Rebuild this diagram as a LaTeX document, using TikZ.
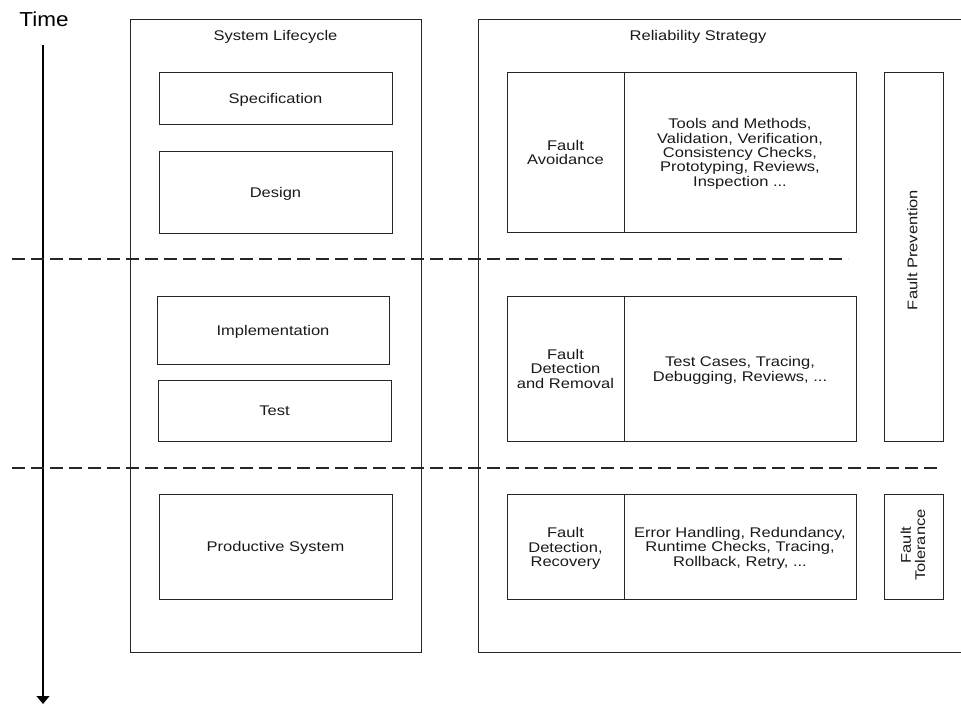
\documentclass[tikz,border=0pt]{standalone}
\usepackage{graphicx}
\usepackage{fontspec}
\setmainfont{Liberation Sans}
\usetikzlibrary{arrows.meta}
% text in this drawing is set slightly condensed in height
\newcommand\sq[1]{\scalebox{1}[0.85]{\begin{tabular}{@{}c@{}}#1\end{tabular}}}
% same, with the ink lowered a little inside unchanged box dimensions
\newcommand\sqb[1]{\raisebox{-2.5pt}[\height][\depth]{\sq{#1}}}
\newcommand\sqline[1]{\scalebox{1}[0.85]{#1}}
\begin{document}
\begin{tikzpicture}[x=1pt,y=-1pt,
  every node/.style={inner sep=0pt,outer sep=0pt},
  txt/.style={font=\fontsize{16.5}{16.5}\selectfont,align=center,text=black!90},
  box/.style={draw=black!85,line width=1pt,txt},
  frame/.style={draw=black!85,line width=1pt},
  sep/.style={draw=black!85,line width=1.3pt,dash pattern=on 13pt off 6pt},
  title/.style={txt,anchor=base}]
\useasboundingbox (0,0) rectangle (961,704);
\clip (0,0) rectangle (961,704);

% time axis
\node[font=\fontsize{22.5}{22.5}\selectfont,anchor=base] (time) at (44,26) {\scalebox{1}[0.9]{Time}};
\coordinate (t0) at (43,45);
\coordinate (t1) at (43,704);
\draw[line width=1.3pt,-{Triangle[width=13pt,length=8pt]}] (t0) -- (t1);

% phase separators
\coordinate (d1a) at (12,259);  \coordinate (d1b) at (848,259);
\coordinate (d2a) at (12,468);  \coordinate (d2b) at (942,468);
\draw[sep] (d1a) -- (d1b);
\draw[sep] (d2a) -- (d2b);

% system lifecycle column
\node[frame,minimum width=291,minimum height=633] (life) at (275.5,335.5) {};
\node[title] (lifet) at (275.5,40) {\sqline{System Lifecycle}};
\node[box,minimum width=233,minimum height=52] (spec) at (275.5,98) {\sqb{Specification}};
\node[box,minimum width=233,minimum height=82] (design) at (275.5,192) {\sqb{Design}};
\node[box,minimum width=232,minimum height=68] (impl) at (273,330) {\sqb{Implementation}};
\node[box,minimum width=233,minimum height=61] (test) at (274.5,410.5) {\sqb{Test}};
\node[box,minimum width=233,minimum height=105] (prod) at (275.5,546.5) {\sqb{Productive System}};

% reliability strategy column
\node[frame,minimum width=500,minimum height=633] (rel) at (728,335.5) {};
\node[title] (relt) at (698,40) {\sqline{Reliability Strategy}};

\node[box,minimum width=117,minimum height=160] (avl) at (565.5,152) {\sqb{Fault\\Avoidance}};
\node[box,minimum width=232,minimum height=160] (avr) at (740,152)
  {\sqb{Tools and Methods,\\Validation, Verification,\\Consistency Checks,\\Prototyping, Reviews,\\Inspection ...}};

\node[box,minimum width=117,minimum height=145] (drl) at (565.5,368.5) {\sqb{Fault\\Detection\\and Removal}};
\node[box,minimum width=232,minimum height=145] (drr) at (740,368.5)
  {\sqb{Test Cases, Tracing,\\Debugging, Reviews, ...}};

\node[box,minimum width=117,minimum height=105] (rcl) at (565.5,546.5) {\sqb{Fault\\Detection,\\Recovery}};
\node[box,minimum width=232,minimum height=105] (rcr) at (740,546.5)
  {\sqb{Error Handling, Redundancy,\\Runtime Checks, Tracing,\\Rollback, Retry, ...}};

\node[frame,minimum width=59,minimum height=369] (prev) at (913.5,256.5) {};
\node[txt,rotate=90] (prevt) at (914.5,250) {\sq{Fault Prevention}};
\node[frame,minimum width=59,minimum height=105] (tol) at (913.5,546.5) {};
\node[txt,rotate=90] (tolt) at (915,545) {\sq{Fault\\Tolerance}};
\end{tikzpicture}
\end{document}
